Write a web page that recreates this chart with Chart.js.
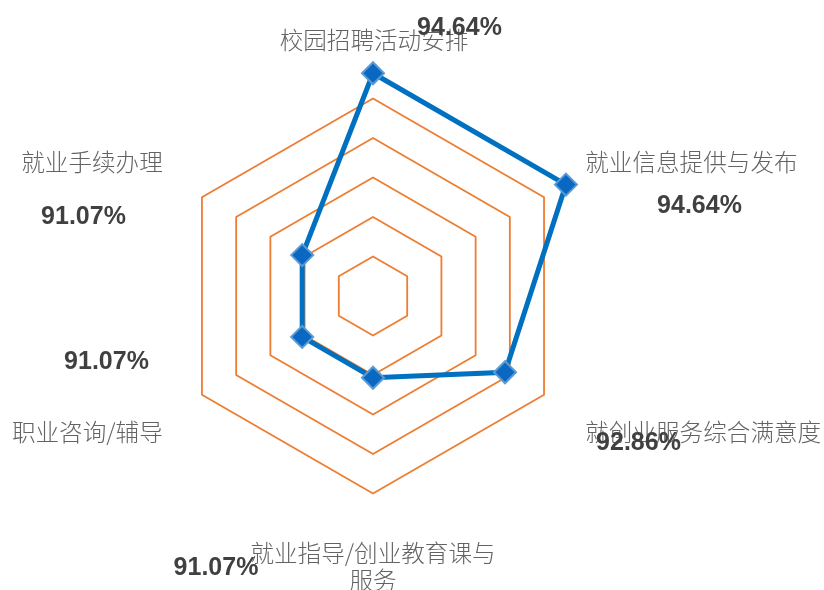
<!DOCTYPE html>
<html>
<head>
<meta charset="utf-8">
<script src="https://cdn.jsdelivr.net/npm/chart.js@4/dist/chart.umd.min.js"></script>
<style>
  html, body { margin: 0; padding: 0; background: #ffffff; }
  #wrap { width: 824px; height: 590px; position: relative; }
</style>
</head>
<body>
<div id="wrap"><canvas id="c"></canvas></div>
<script>
// ---- data ----
const categories = [
  '校园招聘活动安排',
  '就业信息提供与发布',
  '就创业服务综合满意度',
  ['就业指导/创业教育课与', '服务'],
  '职业咨询/辅导',
  '就业手续办理'
];
const satisfaction = [94.64, 94.64, 92.86, 91.07, 91.07, 91.07];
const scaleMin = 89;
const scaleMax = 95;
const gridTicks = [90, 91, 92, 93, 94];

// ---- layout for text (offsets from chart centre / label anchors) ----
const catLabelLayout = [
  { dx: 1,  dy: -19, align: 'center' },
  { dx: 7,  dy: -15, align: 'left' },
  { dx: 7,  dy: 18,  align: 'left' },
  { dx: 0,  dy: 20,  align: 'center' },
  { dx: -5, dy: 18,  align: 'right' },
  { dx: -5, dy: -15, align: 'right' }
];
const valueLabelLayout = [
  { dx: 86.5,   dy: -268 },
  { dx: 326.5,  dy: -89.5 },
  { dx: 265.5,  dy: 147.5 },
  { dx: -157,   dy: 272.5 },
  { dx: -266.5, dy: 66.5 },
  { dx: -289.5, dy: -78.5 }
];

const textPlugin = {
  id: 'textPlugin',
  afterDraw(chart) {
    const scale = chart.scales.r;
    const ctx = chart.ctx;
    const outer = scale.getDistanceFromCenterForValue(scaleMax);
    ctx.save();
    ctx.textBaseline = 'middle';
    // category labels
    ctx.font = '300 23.6px "Noto Sans CJK SC", sans-serif';
    ctx.fillStyle = '#636363';
    categories.forEach((lab, i) => {
      const p = scale.getPointPosition(i, outer);
      const L = catLabelLayout[i];
      const lines = Array.isArray(lab) ? lab : [lab];
      ctx.textAlign = L.align;
      lines.forEach((t, k) => {
        ctx.fillText(t, p.x + L.dx, p.y + L.dy + k * 27);
      });
    });
    // value labels
    ctx.font = 'bold 25px "Liberation Sans", Arial, sans-serif';
    ctx.fillStyle = '#404040';
    ctx.textAlign = 'center';
    satisfaction.forEach((v, i) => {
      const L = valueLabelLayout[i];
      ctx.fillText(v.toFixed(2) + '%', scale.xCenter + L.dx, scale.yCenter + L.dy);
    });
    ctx.restore();
  }
};

new Chart(document.getElementById('c'), {
  type: 'radar',
  data: {
    labels: categories,
    datasets: [{
      data: satisfaction,
      borderColor: '#0070C0',
      borderWidth: 5,
      backgroundColor: 'rgba(0,0,0,0)',
      fill: false,
      tension: 0,
      pointStyle: 'rectRot',
      pointRadius: 11,
      pointHoverRadius: 11,
      pointBackgroundColor: '#0B68C2',
      pointBorderColor: '#5B9BD5',
      pointBorderWidth: 2
    }]
  },
  options: {
    responsive: true,
    maintainAspectRatio: false,
    animation: false,
    layout: { padding: { left: 136, right: 214, top: 59.5, bottom: 56.5 } },
    plugins: { legend: { display: false }, tooltip: { enabled: false } },
    scales: {
      r: {
        min: scaleMin,
        max: scaleMax,
        ticks: { display: false, stepSize: 1 },
        angleLines: { display: false },
        pointLabels: { display: false },
        grid: {
          lineWidth: 1.8,
          color: (ctx) => gridTicks.includes(ctx.tick && ctx.tick.value) ? '#ED7D31' : 'rgba(0,0,0,0)'
        }
      }
    }
  },
  plugins: [textPlugin]
});
</script>
</body>
</html>
